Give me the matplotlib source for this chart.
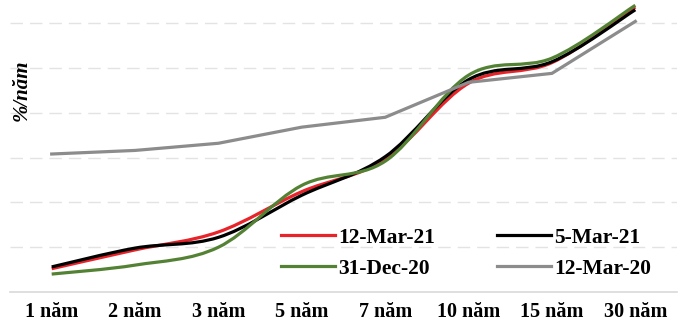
import matplotlib
matplotlib.use("Agg")
import matplotlib.pyplot as plt
from matplotlib.path import Path
from matplotlib.patches import PathPatch
from matplotlib.lines import Line2D

# Dữ liệu (lợi suất, %/năm)
ky_han = ["1 năm", "2 năm", "3 năm", "5 năm", "7 năm", "10 năm", "15 năm", "30 năm"]
mar12_21 = [0.26, 0.47, 0.67, 1.12, 1.48, 2.33, 2.56, 3.18]
mar5_21 = [0.28, 0.49, 0.61, 1.08, 1.51, 2.37, 2.57, 3.15]
dec31_20 = [0.20, 0.30, 0.50, 1.19, 1.46, 2.42, 2.61, 3.20]
mar12_20 = [1.54, 1.58, 1.66, 1.84, 1.95, 2.34, 2.44, 3.02]

plt.rcParams['font.family'] = ['Liberation Serif', 'DejaVu Serif']
plt.rcParams['font.weight'] = 'bold'


def smooth_path(xs, ys):
    # đường cong Bezier kiểu "smoothed line" của Excel
    pts = list(zip(xs, ys))
    verts = [pts[0]]
    codes = [Path.MOVETO]
    n = len(pts)
    for i in range(n - 1):
        p0 = pts[i - 1] if i > 0 else pts[i]
        p1 = pts[i]
        p2 = pts[i + 1]
        p3 = pts[i + 2] if i + 2 < n else pts[i + 1]
        c1 = (p1[0] + (p2[0] - p0[0]) / 6, p1[1] + (p2[1] - p0[1]) / 6)
        c2 = (p2[0] - (p3[0] - p1[0]) / 6, p2[1] - (p3[1] - p1[1]) / 6)
        verts += [c1, c2, p2]
        codes += [Path.CURVE4] * 3
    return Path(verts, codes)


fig = plt.figure(figsize=(6.87, 3.22), dpi=100)
ax = fig.add_axes([10 / 687, 30 / 322, 667 / 687, 313.6 / 322])

x = list(range(len(ky_han)))
lw = 2.3

ax.plot(x, mar12_20, color="#8c8c8c", lw=lw, solid_joinstyle="miter")
for vals, col in [(mar12_21, "#e8232a"), (mar5_21, "#000000"), (dec31_20, "#548235")]:
    ax.add_patch(PathPatch(smooth_path(x, vals), fill=False, edgecolor=col, lw=lw))

ax.set_xlim(-0.5, 7.5)
ax.set_ylim(0, 3.5)
ax.set_yticks([0.5, 1.0, 1.5, 2.0, 2.5, 3.0, 3.5])
ax.set_yticklabels([])
ax.tick_params(axis="y", length=0)
ax.grid(axis="y", color="#e3e3e3", lw=1, linestyle=(0, (9, 5)))
ax.set_axisbelow(True)

ax.set_xticks(x)
ax.set_xticklabels(ky_han, fontsize=14.5, fontweight="bold")
ax.tick_params(axis="x", length=0, pad=7)

for s in ["top", "right", "left"]:
    ax.spines[s].set_visible(False)
ax.spines["bottom"].set_color("#d9d9d9")
ax.spines["bottom"].set_linewidth(1.2)

fig.text(22 / 687, 1 - 90 / 322, "%/năm", rotation=90, fontsize=15,
         fontweight="bold", fontstyle="italic", ha="center", va="center")

handles = [
    Line2D([], [], color="#e8232a", lw=lw),
    Line2D([], [], color="#548235", lw=lw),
    Line2D([], [], color="#000000", lw=lw),
    Line2D([], [], color="#8c8c8c", lw=lw),
]
labels = ["12-Mar-21", "31-Dec-20", "5-Mar-21", "12-Mar-20"]
fig.legend(handles, labels, ncol=2, frameon=False, fontsize=15.5,
           loc="upper left", bbox_to_anchor=(270 / 687, 1 - 217 / 322),
           borderpad=0, handlelength=2.5, handletextpad=0.15,
           columnspacing=2.9, labelspacing=0.5)

fig.savefig("out.png", dpi=100)
